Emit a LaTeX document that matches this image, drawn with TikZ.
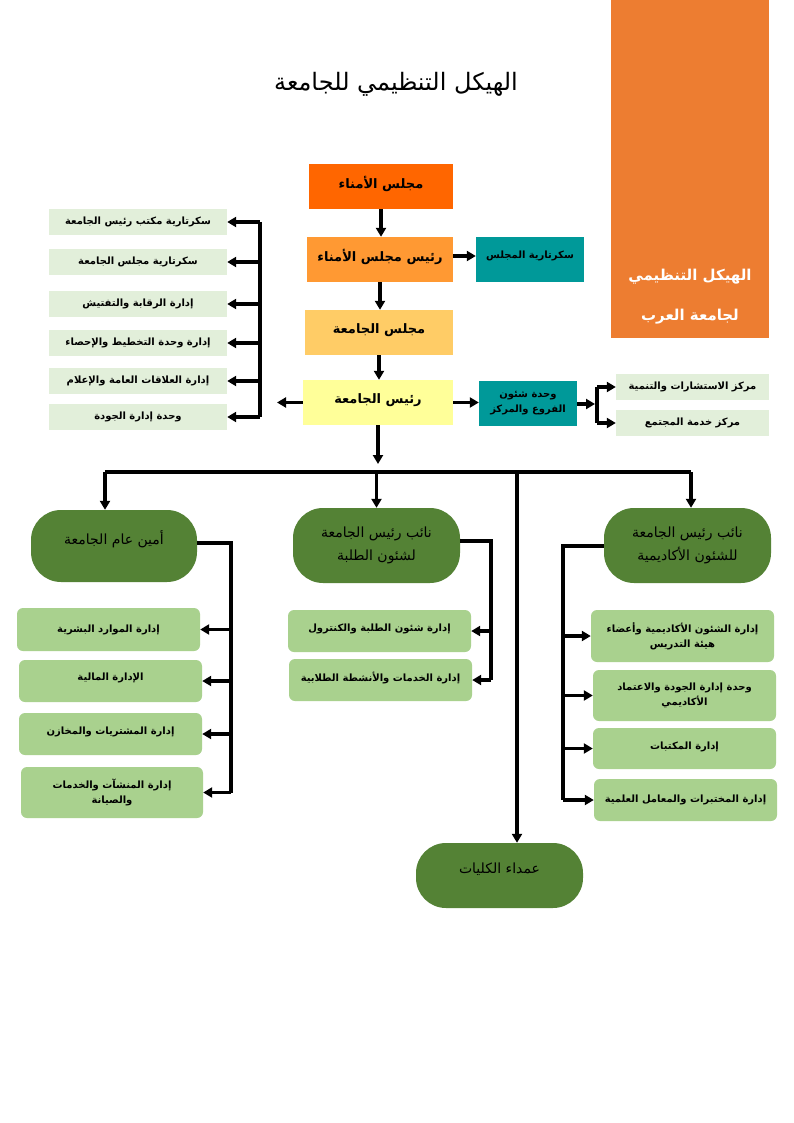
\documentclass[tikz,border=0pt]{standalone}
\usepackage{fontspec}
\usetikzlibrary{arrows.meta}
\TeXXeTstate=1
\newfontfamily\arabicfont[Script=Arabic]{DejaVu Sans}
\newcommand\ar[1]{\beginR #1\endR}
\definecolor{cAmana}{HTML}{FF6600}
\definecolor{cRaisAmana}{HTML}{FF9933}
\definecolor{cMajlis}{HTML}{FFCC66}
\definecolor{cRais}{HTML}{FFFF99}
\definecolor{cTeal}{HTML}{009999}
\definecolor{cPale}{HTML}{E2EFDA}
\definecolor{cLight}{HTML}{A9D18E}
\definecolor{cDark}{HTML}{548235}
\definecolor{cBanner}{HTML}{ED7D31}
\tikzset{
  box/.style={draw=none, inner sep=2pt, align=center, font=\fontsize{13}{17}\selectfont\arabicfont\bfseries},
  small/.style={box, font=\fontsize{10}{15}\selectfont\arabicfont\bfseries},
  pale/.style={small, fill=cPale, minimum height=26pt},
  sub/.style={small, fill=cLight, rounded corners=6pt},
  big/.style={box, fill=cDark, rounded corners=30pt, font=\fontsize{14}{23}\selectfont\arabicfont},
  ln/.style={line width=3.1pt},
  arr/.style={line width=3.1pt, -{Triangle[length=9pt,width=10pt]}},
}
\begin{document}
\begin{tikzpicture}[x=1pt,y=-1pt]
\fill[white] (0,0) rectangle (794,1123);
\useasboundingbox (0,0) rectangle (794,1123);

% banner
\fill[cBanner] (611,0) rectangle (769,338);
\node[text=white, align=center, font=\fontsize{15}{40}\selectfont\arabicfont\bfseries] (banner) at (690,297) {\ar{الهيكل التنظيمي}\\\ar{لجامعة العرب}};

% title
\node[font=\fontsize{24}{28}\selectfont\arabicfont] (title) at (396,84) {\ar{الهيكل التنظيمي للجامعة}};

% central column
\node[box, fill=cAmana, minimum width=144pt, minimum height=45pt, text depth=8pt] (amana) at (381,186.5) {\ar{مجلس الأمناء}};
\node[box, fill=cRaisAmana, minimum width=146pt, minimum height=45pt, text depth=8pt] (raisAmana) at (380,259.5) {\ar{رئيس مجلس الأمناء}};
\node[small, fill=cTeal, minimum width=108pt, minimum height=45pt, text depth=10pt] (sec) at (530,259.5) {\ar{سكرتارية المجلس}};
\node[box, fill=cMajlis, minimum width=148pt, minimum height=45pt, text depth=8pt] (majlis) at (379,332.5) {\ar{مجلس الجامعة}};
\node[box, fill=cRais, minimum width=150pt, minimum height=45pt, text depth=8pt] (rais) at (378,402.5) {\ar{رئيس الجامعة}};
\node[small, fill=cTeal, minimum width=98pt, minimum height=45pt] (wahda) at (528,403.5) {\ar{وحدة شئون}\\\ar{الفروع والمركز}};
\node[pale, minimum width=153pt] (istishar) at (692.5,387) {\ar{مركز الاستشارات والتنمية}};
\node[pale, minimum width=153pt] (khidma) at (692.5,423) {\ar{مركز خدمة المجتمع}};

% left column
\node[pale, minimum width=178pt] (l1) at (138,222) {\ar{سكرتارية مكتب رئيس الجامعة}};
\node[pale, minimum width=178pt] (l2) at (138,262) {\ar{سكرتارية مجلس الجامعة}};
\node[pale, minimum width=178pt] (l3) at (138,304) {\ar{إدارة الرقابة والتفتيش}};
\node[pale, minimum width=178pt] (l4) at (138,343) {\ar{إدارة وحدة التخطيط والإحصاء}};
\node[pale, minimum width=178pt] (l5) at (138,381) {\ar{إدارة العلاقات العامة والإعلام}};
\node[pale, minimum width=178pt] (l6) at (138,417) {\ar{وحدة إدارة الجودة}};

% green heads
\node[big, minimum width=166pt, minimum height=72pt, text depth=16pt] (amin) at (114,546) {\ar{أمين عام الجامعة}};
\node[big, minimum width=167pt, minimum height=75pt] (talaba) at (376.5,545.5) {\ar{نائب رئيس الجامعة}\\\ar{لشئون الطلبة}};
\node[big, minimum width=167pt, minimum height=75pt] (akad) at (687.5,545.5) {\ar{نائب رئيس الجامعة}\\\ar{للشئون الأكاديمية}};
\node[big, minimum width=167pt, minimum height=65pt, text depth=14pt] (umada) at (499.5,875.5) {\ar{عمداء الكليات}};

% sub boxes left
\node[sub, minimum width=183pt, minimum height=43pt] (hr) at (108.5,629.5) {\ar{إدارة الموارد البشرية}};
\node[sub, minimum width=183pt, minimum height=42pt, text depth=8pt] (mal) at (110.5,681) {\ar{الإدارة المالية}};
\node[sub, minimum width=183pt, minimum height=42pt, text depth=6pt] (mush) at (110.5,734) {\ar{إدارة المشتريات والمخازن}};
\node[sub, minimum width=182pt, minimum height=51pt] (mun) at (112,792.5) {\ar{إدارة المنشآت والخدمات}\\\ar{والصيانة}};

% sub boxes middle
\node[sub, minimum width=183pt, minimum height=42pt, text depth=6pt] (shuun) at (379.5,631) {\ar{إدارة شئون الطلبة والكنترول}};
\node[sub, minimum width=183pt, minimum height=42pt, text depth=6pt] (khad) at (380.5,680) {\ar{إدارة الخدمات والأنشطة الطلابية}};

% sub boxes right
\node[sub, minimum width=183pt, minimum height=52pt] (a1) at (682.5,636) {\ar{إدارة الشئون الأكاديمية وأعضاء}\\\ar{هيئة التدريس}};
\node[sub, minimum width=183pt, minimum height=51pt] (a2) at (684.5,695.5) {\ar{وحدة إدارة الجودة والاعتماد}\\\ar{الأكاديمي}};
\node[sub, minimum width=183pt, minimum height=41pt, text depth=6pt] (a3) at (684.5,748.5) {\ar{إدارة المكتبات}};
\node[sub, minimum width=183pt, minimum height=42pt] (a4) at (685.5,800) {\ar{إدارة المختبرات والمعامل العلمية}};

% coordinates
\coordinate (lv) at (260,0);
\coordinate (raisL) at (277,0);
\coordinate (secY) at (0,256);
\coordinate (bx) at (597,404);
\coordinate (bxT) at (595,404);
\coordinate (hT) at (0,464);
\coordinate (hL) at (105,472);
\coordinate (hR) at (691,472);
\coordinate (hU) at (517,472);
\coordinate (av) at (231,543);
\coordinate (tv) at (491,541);
\coordinate (kv) at (563,546);

% central arrows
\draw[arr] (amana.south) -- (amana.south |- raisAmana.north);
\draw[arr] (raisAmana.south) -- (raisAmana.south |- majlis.north);
\draw[arr] (majlis.south) -- (majlis.south |- rais.north);
\draw[arr] (raisAmana.east |- secY) -- (sec.west |- secY);
\draw[arr] (rais.east) -- (rais.east -| wahda.west);
\draw[arr] (rais.west) -- (rais.west -| raisL);

% right bracket
\draw[arr] (wahda.east |- bxT) -- (bxT);
\draw[ln] (bx |- istishar.west) -- (bx |- khidma.west);
\draw[arr] (bx |- istishar.west) -- (istishar.west);
\draw[arr] (bx |- khidma.west) -- (khidma.west);

% left column
\draw[ln] (lv |- l1.east) -- (lv |- l6.east);
\foreach \n in {l1,l2,l3,l4,l5,l6} \draw[arr] (lv |- \n.east) -- (\n.east);

% bottom tree
\draw[arr] (rais.south) -- (rais.south |- hT);
\draw[ln] (hL) -- (hR);
\draw[arr] (hL) -- (hL |- amin.north);
\draw[arr] (talaba.north |- hL) -- (talaba.north);
\draw[arr] (hR) -- (hR |- akad.north);
\draw[arr] (hU) -- (hU |- umada.north);

% branches
\draw[ln] (amin.east |- av) -- (av) -- (av |- mun.east);
\foreach \n in {hr,mal,mush,mun} \draw[arr] (av |- \n.east) -- (\n.east);
\draw[ln] (talaba.east |- tv) -- (tv) -- (tv |- khad.east);
\foreach \n in {shuun,khad} \draw[arr] (tv |- \n.east) -- (\n.east);
\draw[ln] (akad.west |- kv) -- (kv) -- (kv |- a4.west);
\foreach \n in {a1,a2,a3,a4} \draw[arr] (kv |- \n.west) -- (\n.west);
\end{tikzpicture}
\end{document}
